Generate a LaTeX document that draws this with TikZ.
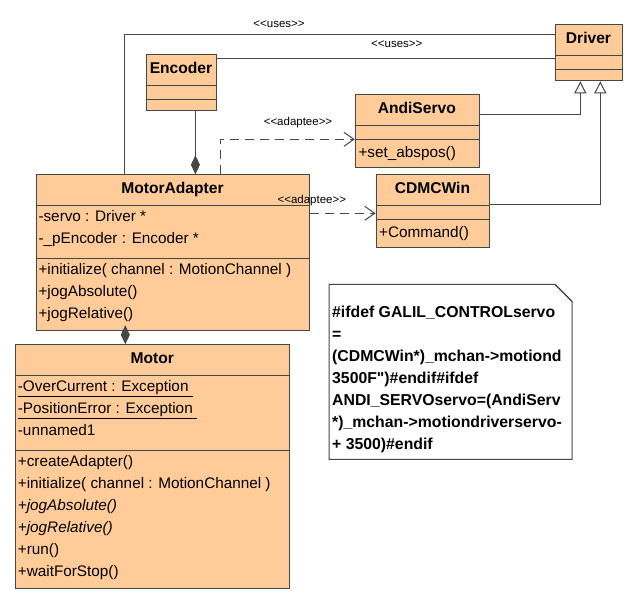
\documentclass[tikz,border=0pt]{standalone}
\usepackage{fontspec}
\newfontfamily\uf{Liberation Sans}
\usetikzlibrary{arrows.meta}
\definecolor{peach}{RGB}{255,204,153}
\definecolor{ln}{RGB}{70,70,70}
\begin{document}
\begin{tikzpicture}[x=1pt,y=-1pt,
  cls/.style={draw=ln, fill=peach, line width=1pt, rectangle, inner sep=0pt, anchor=north west},
  div/.style={draw=ln, line width=1pt},
  ttl/.style={font=\uf\fontsize{15.6}{18}\selectfont\bfseries, inner sep=0pt, text height=12pt, text depth=4pt},
  mem/.style={font=\uf\fontsize{15.3}{18}\selectfont, inner sep=0pt, anchor=west, text height=12pt, text depth=4pt},
  ntxt/.style={font=\uf\fontsize{15.8}{18}\selectfont\bfseries, inner sep=0pt, anchor=west, text height=12pt, text depth=4pt},
  stereo/.style={font=\uf\fontsize{11.5}{13}\selectfont, inner sep=0pt},
  conn/.style={draw=ln, line width=1pt},
  gen/.style={conn, -{Triangle[open, length=12pt, width=12pt, fill=white]}},
  comp/.style={conn, -{Diamond[length=19pt, width=9pt, fill=ln]}},
  dep/.style={conn, dash pattern=on 9pt off 6pt, -{Straight Barb[length=10pt, width=14pt]}}
]
\fill[white] (0,0) rectangle (640,608);
\useasboundingbox (0,0) rectangle (640,608);

% ---- Driver
\node[cls, minimum width=66.4pt, minimum height=56pt] (drv) at (555.3,24.3) {};
\draw[div] (drv.west |- 0,55.3) -- (drv.east |- 0,55.3);
\draw[div] (drv.west |- 0,69.3) -- (drv.east |- 0,69.3);
\node[ttl] (drvt) at (588.5,39.5) {Driver};

% ---- Encoder
\node[cls, minimum width=70.9pt, minimum height=55.7pt] (enc) at (145.5,54.3) {};
\draw[div] (enc.west |- 0,85.3) -- (enc.east |- 0,85.3);
\draw[div] (enc.west |- 0,99) -- (enc.east |- 0,99);
\node[ttl] (enct) at (181,69.5) {Encoder};

% ---- AndiServo
\node[cls, minimum width=124pt, minimum height=72.7pt] (as) at (354.8,94.3) {};
\draw[div] (as.west |- 0,125.3) -- (as.east |- 0,125.3);
\draw[div] (as.west |- 0,139) -- (as.east |- 0,139);
\node[ttl] (ast) at (416.8,109.7) {AndiServo};
\node[mem] (as1) at (358.3,153) {+set\_abspos()};

% ---- CDMCWin
\node[cls, minimum width=113.6pt, minimum height=73pt] (cd) at (375.6,174.3) {};
\draw[div] (cd.west |- 0,205.3) -- (cd.east |- 0,205.3);
\draw[div] (cd.west |- 0,219.3) -- (cd.east |- 0,219.3);
\node[ttl] (cdt) at (432.4,189.3) {CDMCWin};
\node[mem] (cd1) at (379,233) {+Command()};

% ---- MotorAdapter
\node[cls, minimum width=273.6pt, minimum height=155.7pt] (ma) at (35.7,174.3) {};
\draw[div] (ma.west |- 0,205.3) -- (ma.east |- 0,205.3);
\draw[div] (ma.west |- 0,258.3) -- (ma.east |- 0,258.3);
\node[ttl] (mat) at (172.5,189.3) {MotorAdapter};
\node[mem] (ma1) at (38.3,217.3) {-servo : Driver *};
\node[mem] (ma2) at (38.3,239.3) {-\_pEncoder : Encoder *};
\node[mem] (ma3) at (38.3,270) {+initialize( channel : MotionChannel )};
\node[mem] (ma4) at (38.3,292.7) {+jogAbsolute()};
\node[mem] (ma5) at (38.3,314.3) {+jogRelative()};

% ---- Motor
\node[cls, minimum width=274pt, minimum height=244pt] (mo) at (15.3,344.3) {};
\draw[div] (mo.west |- 0,375.3) -- (mo.east |- 0,375.3);
\draw[div] (mo.west |- 0,450) -- (mo.east |- 0,450);
\node[ttl] (mot) at (152.3,359.3) {Motor};
\node[mem] (mo1) at (17.7,387.7) {\underline{-OverCurrent : Exception\ }};
\node[mem] (mo2) at (17.7,409.5) {\underline{-PositionError : Exception\ }};
\node[mem] (mo3) at (17.7,431.3) {-unnamed1};
\node[mem] (mo4) at (17.7,462.3) {+createAdapter()};
\node[mem] (mo5) at (17.7,484.3) {+initialize( channel : MotionChannel )};
\node[mem] (mo6) at (17.7,506.3) {\itshape +jogAbsolute()};
\node[mem] (mo7) at (17.7,528.3) {\itshape +jogRelative()};
\node[mem] (mo8) at (17.7,550.3) {+run()};
\node[mem] (mo9) at (17.7,572.3) {+waitForStop()};

% ---- Note
\draw[draw=ln, fill=white, line width=1pt] (329,284.3) -- (555,284.3) -- (572,301.3) -- (572,459.3) -- (329,459.3) -- cycle;
\draw[draw=ln, line width=1pt] (555,284.3) -- (572,301.3);
\node[ntxt] (n1) at (332,313) {\#ifdef GALIL\_CONTROLservo};
\node[ntxt] (n2) at (332,335) {=};
\node[ntxt] (n3) at (332,357) {(CDMCWin*)\_mchan->motiond};
\node[ntxt] (n4) at (332,379) {3500F")\#endif\#ifdef};
\node[ntxt] (n5) at (332,401) {ANDI\_SERVOservo=(AndiServ};
\node[ntxt] (n6) at (332,423) {*)\_mchan->motiondriverservo-};
\node[ntxt] (n7) at (332,445) {+ 3500)\#endif};

% ---- connectors
\coordinate (u1) at (124.1,34.3);
\draw[conn] (u1 |- ma.north) -- (u1) -- (u1 -| drv.west);
\node[stereo] (u1l) at (279,24) {<\kern0pt<uses>\kern0pt>};
\coordinate (u2) at (300,58.3);
\draw[conn] (enc.east |- u2) -- (drv.west |- u2);
\node[stereo] (u2l) at (396.8,44.3) {<\kern0pt<uses>\kern0pt>};

\coordinate (g1) at (580.3,114.3);
\draw[gen] (as.east |- g1) -- (g1) -- (g1 |- drv.south);
\coordinate (g2) at (600.3,204);
\draw[gen] (cd.east |- g2) -- (g2) -- (g2 |- drv.south);

\coordinate (c1) at (195.4,140);
\draw[comp] (c1 |- enc.south) -- (c1 |- ma.north);
\coordinate (c2) at (125.3,337);
\draw[comp] (c2 |- ma.south) -- (c2 |- mo.north);

\coordinate (a1) at (220.2,139.3);
\draw[dep] (a1 |- ma.north) -- (a1) -- (as.west |- a1);
\node[stereo] (a1l) at (298,122.7) {<\kern0pt<adaptee>\kern0pt>};
\coordinate (a2) at (340,213.3);
\draw[dep] (ma.east |- a2) -- (cd.west |- a2);
\node[stereo] (a2l) at (311.8,201) {<\kern0pt<adaptee>\kern0pt>};
\end{tikzpicture}
\end{document}
